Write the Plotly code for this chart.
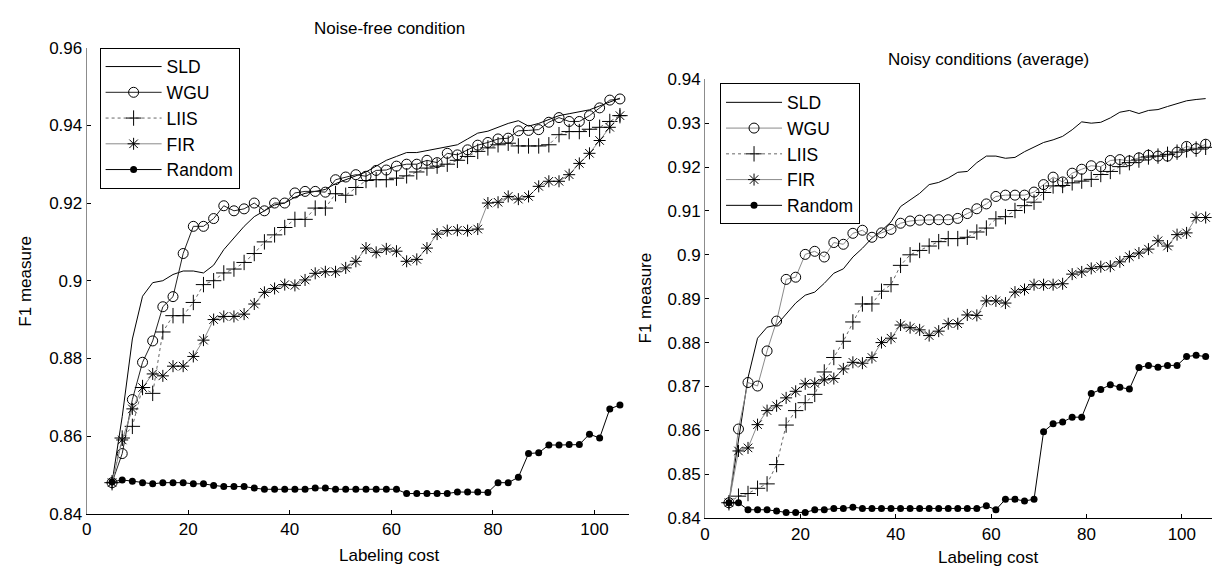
import plotly.graph_objects as go

W, H = 1212, 575

# ---------------- data ----------------
cost = [5, 7, 9, 11, 13, 15, 17, 19, 21, 23,
        25, 27, 29, 31, 33, 35, 37, 39, 41, 43,
        45, 47, 49, 51, 53, 55, 57, 59, 61, 63,
        65, 67, 69, 71, 73, 75, 77, 79, 81, 83,
        85, 87, 89, 91, 93, 95, 97, 99, 101, 103, 105]

series_names = ["SLD", "WGU", "LIIS", "FIR", "Random"]

# Noise-free condition
nf_sld = [0.848, 0.865, 0.885, 0.896, 0.8995, 0.900, 0.9016, 0.9025, 0.9025, 0.902,
          0.904, 0.908, 0.911, 0.914, 0.9165, 0.918, 0.9195, 0.920, 0.9215, 0.9225,
          0.923, 0.9235, 0.925, 0.926, 0.927, 0.928, 0.9295, 0.931, 0.932, 0.933,
          0.933, 0.9335, 0.934, 0.9345, 0.935, 0.9365, 0.938, 0.9385, 0.9395, 0.9405,
          0.9412, 0.9398, 0.9405, 0.9415, 0.9425, 0.943, 0.9435, 0.944, 0.945, 0.946, 0.947]
nf_wgu = [0.848, 0.8555, 0.8694, 0.879, 0.8845, 0.8933, 0.8959, 0.907, 0.914, 0.914,
          0.916, 0.9193, 0.918, 0.9185, 0.920, 0.918, 0.920, 0.920, 0.9226, 0.923,
          0.923, 0.9228, 0.926, 0.9267, 0.9273, 0.9269, 0.9284, 0.9285, 0.9295, 0.930,
          0.930, 0.931, 0.9304, 0.9328, 0.9324, 0.9337, 0.9349, 0.9356, 0.9365, 0.9367,
          0.9386, 0.9387, 0.9389, 0.9408, 0.942, 0.941, 0.941, 0.9425, 0.9445, 0.9465, 0.9468]
nf_liis = [0.848, 0.8595, 0.8625, 0.8725, 0.871, 0.8868, 0.891, 0.891, 0.8944, 0.899,
           0.900, 0.902, 0.903, 0.9047, 0.907, 0.910, 0.9118, 0.9137, 0.9158, 0.9158,
           0.9187, 0.9187, 0.9224, 0.922, 0.924, 0.9258, 0.926, 0.926, 0.9264, 0.927,
           0.928, 0.929, 0.9295, 0.930, 0.931, 0.932, 0.9333, 0.9342, 0.935, 0.9354,
           0.9347, 0.9347, 0.9347, 0.935, 0.9376, 0.9384, 0.9384, 0.939, 0.9395, 0.941, 0.9425]
nf_fir = [0.848, 0.859, 0.867, 0.8725, 0.876, 0.8755, 0.878, 0.878, 0.8805, 0.8847,
          0.890, 0.8908, 0.8908, 0.8914, 0.894, 0.897, 0.898, 0.899, 0.8988, 0.9002,
          0.9019, 0.9023, 0.9023, 0.9033, 0.905, 0.9084, 0.9073, 0.9082, 0.9076, 0.905,
          0.9055, 0.9084, 0.912, 0.9129, 0.913, 0.9129, 0.9133, 0.920, 0.9202, 0.9217,
          0.921, 0.9217, 0.9243, 0.9256, 0.9256, 0.9273, 0.9302, 0.9328, 0.9361, 0.9395, 0.9425]
nf_random = [0.8482, 0.8487, 0.8484, 0.848, 0.8477, 0.848, 0.848, 0.848, 0.8477, 0.8477,
             0.8473, 0.847, 0.847, 0.847, 0.8466, 0.8463, 0.8463, 0.8463, 0.8463, 0.8463,
             0.8466, 0.8466, 0.8463, 0.8463, 0.8463, 0.8463, 0.8463, 0.8463, 0.8463, 0.8452,
             0.8452, 0.8452, 0.8452, 0.8452, 0.8456, 0.8456, 0.8456, 0.8455, 0.848, 0.848,
             0.8494, 0.8555, 0.8557, 0.8577, 0.8577, 0.8578, 0.8578, 0.8605, 0.8595, 0.867, 0.868]

# Noisy conditions (average)
ny_sld = [0.8435, 0.858, 0.872, 0.881, 0.8835, 0.884, 0.8865, 0.889, 0.8908, 0.8915,
          0.8935, 0.8958, 0.8968, 0.8995, 0.9015, 0.9038, 0.9055, 0.9075, 0.911, 0.9125,
          0.914, 0.916, 0.9165, 0.9175, 0.9188, 0.919, 0.921, 0.9225, 0.9225, 0.922,
          0.9222, 0.9235, 0.9245, 0.9256, 0.9262, 0.927, 0.9285, 0.9303, 0.930, 0.9302,
          0.9312, 0.9325, 0.9329, 0.9322, 0.9329, 0.9331, 0.9338, 0.9344, 0.9351, 0.9354, 0.9356]
ny_wgu = [0.8435, 0.8603, 0.8709, 0.8701, 0.8781, 0.8849, 0.8944, 0.8949, 0.9001, 0.9008,
          0.8995, 0.9028, 0.9024, 0.9049, 0.9056, 0.904, 0.905, 0.9058, 0.9072, 0.9077,
          0.9079, 0.908, 0.908, 0.908, 0.9083, 0.9094, 0.9105, 0.9116, 0.9133, 0.9136,
          0.9136, 0.9136, 0.9143, 0.916, 0.9177, 0.9166, 0.9186, 0.9195, 0.9203, 0.9201,
          0.9215, 0.9217, 0.9214, 0.9221, 0.9227, 0.9225, 0.9225, 0.9234, 0.9247, 0.9242, 0.9252]
ny_liis = [0.8435, 0.845, 0.8456, 0.8468, 0.8478, 0.8522, 0.8612, 0.8645, 0.8663, 0.8682,
           0.8733, 0.8766, 0.8803, 0.8847, 0.8888, 0.8888, 0.8917, 0.8932, 0.8976, 0.900,
           0.901, 0.902, 0.903, 0.9037, 0.9037, 0.904, 0.9052, 0.9061, 0.9082, 0.9087,
           0.9101, 0.9112, 0.912, 0.9142, 0.9157, 0.9158, 0.9164, 0.9168, 0.9172, 0.9183,
           0.919, 0.9201, 0.921, 0.9216, 0.9223, 0.9225, 0.9229, 0.9234, 0.9239, 0.9241, 0.9245]
ny_fir = [0.8435, 0.8553, 0.856, 0.8613, 0.8645, 0.8656, 0.8674, 0.8689, 0.8706, 0.8707,
          0.8715, 0.8718, 0.874, 0.8755, 0.8753, 0.8766, 0.880, 0.881, 0.884, 0.8834,
          0.8829, 0.8816, 0.8826, 0.8843, 0.8843, 0.8863, 0.8862, 0.8895, 0.8895, 0.889,
          0.8915, 0.8921, 0.8932, 0.8932, 0.8932, 0.8934, 0.8956, 0.8961, 0.8969, 0.8973,
          0.8974, 0.8984, 0.8996, 0.9004, 0.9013, 0.9032, 0.902, 0.9046, 0.905, 0.9085, 0.9085]
ny_random = [0.8435, 0.8435, 0.8419, 0.8419, 0.8419, 0.8416, 0.8413, 0.8413, 0.8413, 0.8419,
             0.8419, 0.8422, 0.8422, 0.8425, 0.8422, 0.8422, 0.8422, 0.8422, 0.8422, 0.8422,
             0.8422, 0.8422, 0.8422, 0.8422, 0.8422, 0.8422, 0.8422, 0.8428, 0.8419, 0.8443,
             0.8443, 0.8439, 0.8443, 0.8597, 0.8615, 0.8619, 0.863, 0.863, 0.8684, 0.8693,
             0.8704, 0.8698, 0.8694, 0.8743, 0.8748, 0.8744, 0.8748, 0.8748, 0.8768, 0.8771, 0.8768]

left_ticks = [0.84, 0.86, 0.88, 0.90, 0.92, 0.94, 0.96]
left_ticktext = ["0.84", "0.86", "0.88", "0.9", "0.92", "0.94", "0.96"]
right_ticks = [0.84, 0.85, 0.86, 0.87, 0.88, 0.89, 0.90, 0.91, 0.92, 0.93, 0.94]
right_ticktext = ["0.84", "0.85", "0.86", "0.87", "0.88", "0.89", "0.9", "0.91", "0.92", "0.93", "0.94"]
x_ticks = [0, 20, 40, 60, 80, 100]

FONT = "Liberation Sans, Arial, sans-serif"
FS = 17


def style(name, panel):
    if name == "SLD":
        return dict(mode="lines", line=dict(color="black", width=1))
    if name == "WGU":
        return dict(mode="lines+markers",
                    line=dict(color="#222222" if panel == 0 else "#8a8a8a", width=1),
                    marker=dict(symbol="circle-open", size=10, color="black",
                                line=dict(width=1, color="black")))
    if name == "LIIS":
        return dict(mode="lines+markers",
                    line=dict(color="#666666", width=1, dash="dot"),
                    marker=dict(symbol="cross-thin", size=11, color="black",
                                line=dict(width=1, color="black")))
    if name == "FIR":
        return dict(mode="lines+markers",
                    line=dict(color="#8a8a8a", width=1),
                    marker=dict(symbol="asterisk", size=10, color="black",
                                line=dict(width=1, color="black")))
    return dict(mode="lines+markers", line=dict(color="black", width=1),
                marker=dict(symbol="circle", size=7, color="black"))


fig = go.Figure()
panels = [
    (nf_sld, nf_wgu, nf_liis, nf_fir, nf_random),
    (ny_sld, ny_wgu, ny_liis, ny_fir, ny_random),
]
for p, vals in enumerate(panels):
    for name, ys in zip(series_names, vals):
        fig.add_trace(go.Scatter(
            x=cost, y=ys, name=name,
            xaxis="x" if p == 0 else "x2",
            yaxis="y" if p == 0 else "y2",
            legend="legend" if p == 0 else "legend2",
            **style(name, p)))


def px(x):
    return x / W


def py(y):
    return 1 - y / H


axis_common = dict(showgrid=False, zeroline=False, ticks="inside", ticklen=4,
                   tickcolor="black", showline=True, mirror=False,
                   tickfont=dict(family=FONT, size=FS, color="black"))

fig.update_layout(
    width=W, height=H,
    margin=dict(l=0, r=0, t=0, b=0),
    paper_bgcolor="white", plot_bgcolor="white",
    font=dict(family=FONT, size=FS, color="black"),
    xaxis=dict(domain=[px(82), px(627)], range=[0, 545 / 5.1], anchor="y",
               tickvals=x_ticks, linecolor="black", linewidth=1, **axis_common),
    yaxis=dict(domain=[py(522), py(40)], range=[0.84, 0.96], anchor="x",
               tickvals=left_ticks, ticktext=left_ticktext,
               linecolor="#8c8c8c", linewidth=1, **axis_common),
    xaxis2=dict(domain=[px(703), 1.0], range=[0, (W - 703) / 4.787], anchor="y2",
                tickvals=x_ticks, linecolor="black", linewidth=1, **axis_common),
    yaxis2=dict(domain=[py(526.5), py(72.7)], range=[0.84, 0.94], anchor="x2",
                tickvals=right_ticks, ticktext=right_ticktext,
                linecolor="#8c8c8c", linewidth=1, **axis_common),
    legend=dict(x=px(95), y=py(40), xanchor="left", yanchor="top",
                bordercolor="black", borderwidth=1, bgcolor="white",
                font=dict(family=FONT, size=17.5), itemwidth=56, tracegroupgap=0),
    legend2=dict(x=px(718), y=py(77), xanchor="left", yanchor="top",
                 bordercolor="black", borderwidth=1, bgcolor="white",
                 font=dict(family=FONT, size=17.5), itemwidth=56, tracegroupgap=0),
    showlegend=True,
)

annots = [
    ("Noise-free condition", 386, 20, 0),
    ("Noisy conditions (average)", 988, 52, 0),
    ("F1 measure", 21, 281, -90),
    ("F1 measure", 643, 299, -90),
    ("Labeling cost", 386, 565, 0),
    ("Labeling cost", 987, 567, 0),
]
for text, ax_, ay_, ang in annots:
    fig.add_annotation(text=text, x=px(ax_), y=py(ay_), xref="paper", yref="paper",
                       xanchor="center", yanchor="middle", showarrow=False,
                       textangle=ang, font=dict(family=FONT, size=FS, color="black"))

fig.write_html("out.html")
